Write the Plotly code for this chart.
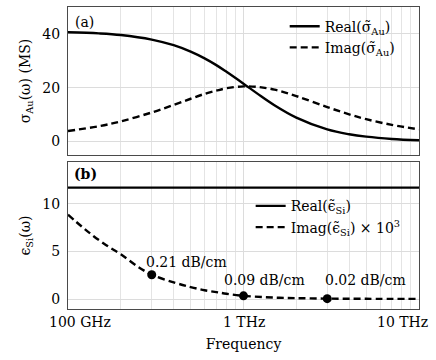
import numpy as np
import plotly.graph_objects as go

# ---- data ----
freq_thz = [0.1, 0.15, 0.2, 0.3, 0.4, 0.5, 0.6, 0.7, 0.8, 1.0, 1.2, 1.5, 2.0, 3.0, 4.0, 5.0, 7.0, 10.0]
sigma_real = [40.6, 40.2, 39.6, 37.9, 35.8, 33.4, 30.9, 28.4, 25.9, 21.5, 17.8, 13.5, 8.9, 4.5, 2.7, 1.8, 0.95, 0.45]
sigma_imag = [3.9, 5.7, 7.5, 10.8, 13.6, 15.9, 17.7, 18.9, 19.8, 20.5, 20.3, 19.3, 16.9, 12.8, 10.1, 8.3, 6.2, 4.5]

eps_freq = [0.1, 0.12, 0.14, 0.17, 0.2, 0.25, 0.3, 0.4, 0.5, 0.6, 0.7, 0.8, 1.0, 1.3, 1.6, 2.0, 3.0, 5.0, 10.0]
eps_imag = [8.85, 7.6, 6.6, 5.5, 4.7, 3.4, 2.55, 1.75, 1.25, 0.92, 0.72, 0.55, 0.33, 0.2, 0.13, 0.09, 0.04, 0.02, 0.01]
eps_real_value = 11.7

marker_freq = [0.3, 1.0, 3.0]
marker_eps = [2.55, 0.33, 0.04]
marker_labels = ["0.21 dB/cm", "0.09 dB/cm", "0.02 dB/cm"]

xtick_vals = [0.1, 1.0, 10.0]
xtick_text = ["100 GHz", "1 THz", "10 THz"]
minor_vals = [m * d for d in (0.1, 1.0) for m in range(2, 10)]

FONT = "DejaVu Serif"
FS = 14

fig = go.Figure()
fig.add_trace(go.Scatter(x=freq_thz, y=sigma_real, mode="lines", line=dict(color="black", width=2.4, shape="spline"),
                         name="Real(σ̃<sub>Au</sub>)", xaxis="x", yaxis="y", legend="legend"))
fig.add_trace(go.Scatter(x=freq_thz, y=sigma_imag, mode="lines", line=dict(color="black", width=2.4, dash="7px,4px", shape="spline"),
                         name="Imag(σ̃<sub>Au</sub>)", xaxis="x", yaxis="y", legend="legend"))
fig.add_trace(go.Scatter(x=[freq_thz[0], freq_thz[-1]], y=[eps_real_value, eps_real_value], mode="lines",
                         line=dict(color="black", width=2.4),
                         name="Real(ϵ̃<sub>Si</sub>)", xaxis="x2", yaxis="y2", legend="legend2"))
fig.add_trace(go.Scatter(x=eps_freq, y=eps_imag, mode="lines", line=dict(color="black", width=2.4, dash="7px,4px", shape="spline"),
                         name="Imag(ϵ̃<sub>Si</sub>) × 10<sup>3</sup>", xaxis="x2", yaxis="y2", legend="legend2"))
fig.add_trace(go.Scatter(x=marker_freq, y=marker_eps, mode="markers", marker=dict(color="black", size=9),
                         showlegend=False, xaxis="x2", yaxis="y2"))

shifts = [(-8, 3), (-22, 6), (-4, 9)]
for f, e, t, (dx, dy) in zip(marker_freq, marker_eps, marker_labels, shifts):
    fig.add_annotation(x=np.log10(f), y=e, xref="x2", yref="y2", text=t, showarrow=False,
                       xanchor="left", yanchor="bottom", xshift=dx, yshift=dy,
                       font=dict(family=FONT, size=FS, color="black"))

tick_anchor = ["left", "center", "right"]
tick_shift = [-21, 0, 11]
for v, t, a, s in zip(xtick_vals, xtick_text, tick_anchor, tick_shift):
    fig.add_annotation(x=np.log10(v), y=0, xref="x2", yref="paper", text=t, showarrow=False,
                       xanchor=a, yanchor="top", xshift=s, yshift=-3,
                       font=dict(family=FONT, size=FS, color="black"))

fig.add_annotation(x=0.015, y=0.985, xref="paper", yref="paper", text="(a)", showarrow=False,
                   xanchor="left", yanchor="top", font=dict(family=FONT, size=FS, color="black"))
fig.add_annotation(x=0.012, y=0.48, xref="paper", yref="paper", text="<b>(b)</b>", showarrow=False,
                   xanchor="left", yanchor="top", font=dict(family=FONT, size=FS, color="black"))

axis_common = dict(showline=True, linecolor="#4a4a4a", linewidth=1, mirror=True, gridcolor="#dcdcdc",
                   gridwidth=1, zeroline=False, ticks="", tickfont=dict(family=FONT, size=FS, color="black"))
xcommon = dict(type="log", range=[-1, 1], tickvals=xtick_vals, ticktext=xtick_text, showticklabels=False,
               minor=dict(tickvals=minor_vals, showgrid=True, gridcolor="#e4e4e4", gridwidth=1), **axis_common)

fig.update_layout(
    width=436, height=360, margin=dict(l=68, r=17, t=7, b=51),
    plot_bgcolor="white", paper_bgcolor="white",
    font=dict(family=FONT, size=FS, color="black"),
    xaxis=dict(domain=[0, 1], anchor="y", **xcommon),
    xaxis2=dict(domain=[0, 1], anchor="y2", matches="x",
                title=dict(text="Frequency", font=dict(family=FONT, size=FS), standoff=30), **xcommon),
    yaxis=dict(domain=[0.51, 1], anchor="x", range=[-5, 50], tickvals=[0, 20, 40],
               title=dict(text="σ<sub>Au</sub>(ω) (MS)", font=dict(family=FONT, size=FS), standoff=8),
               ticklabelstandoff=4, **axis_common),
    yaxis2=dict(domain=[0, 0.487], anchor="x2", range=[-1.05, 14.4], tickvals=[0, 5, 10],
                title=dict(text="ϵ<sub>Si</sub>(ω)", font=dict(family=FONT, size=FS), standoff=8),
                ticklabelstandoff=4, **axis_common),
    legend=dict(x=0.945, y=0.988, xanchor="right", yanchor="top", bgcolor="rgba(255,255,255,0)",
                font=dict(family=FONT, size=FS), tracegroupgap=0, itemwidth=30),
    legend2=dict(x=0.962, y=0.393, xanchor="right", yanchor="top", bgcolor="rgba(255,255,255,0)",
                 font=dict(family=FONT, size=FS), tracegroupgap=0, itemwidth=30),
    showlegend=True,
)

fig.write_html("out.html")
